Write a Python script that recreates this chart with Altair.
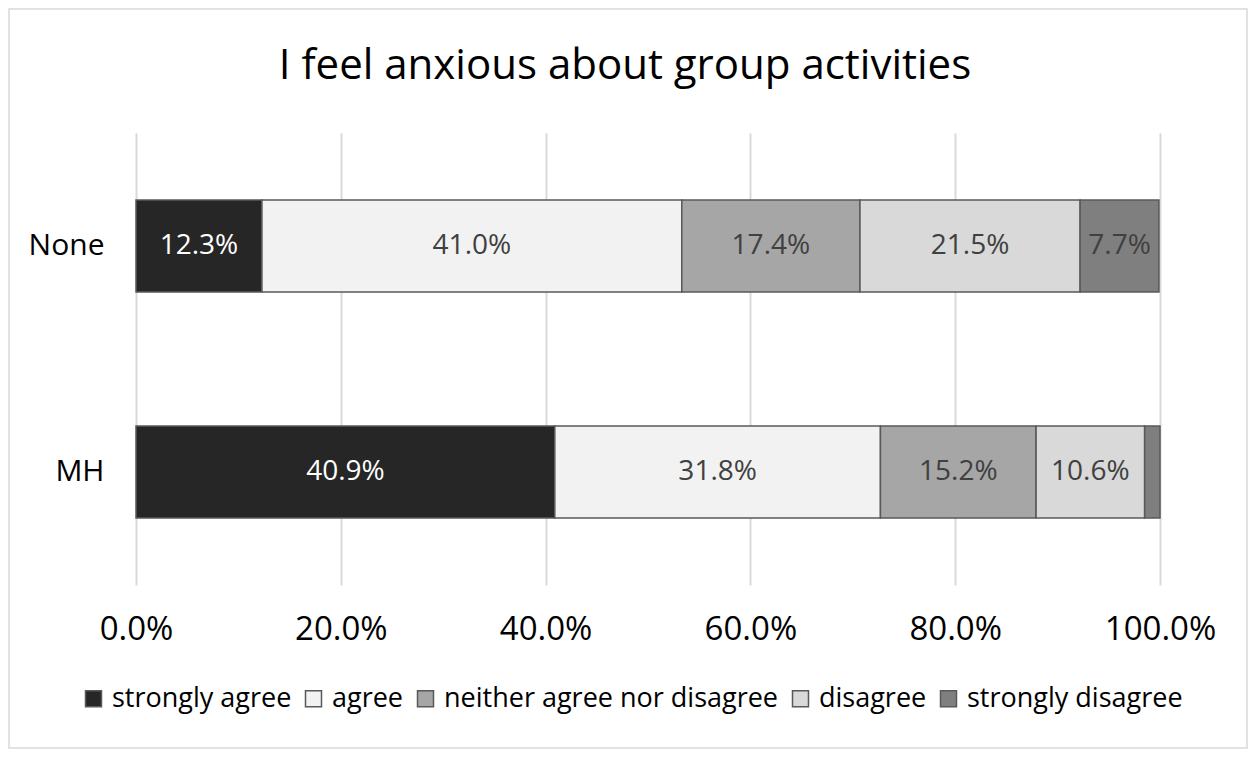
import altair as alt
import pandas as pd

groups = ["None", "MH"]
responses = ["strongly agree", "agree", "neither agree nor disagree", "disagree", "strongly disagree"]
none_vals = [12.3, 41.0, 17.4, 21.5, 7.7]
mh_vals = [40.9, 31.8, 15.2, 10.6, 1.5]
colors = ["#262626", "#f2f2f2", "#a6a6a6", "#d9d9d9", "#7f7f7f"]
text_colors = ["#ffffff", "#404040", "#404040", "#404040", "#404040"]

rows = []
for g, vals in zip(groups, [none_vals, mh_vals]):
    for i, (r, v) in enumerate(zip(responses, vals)):
        rows.append({"group": g, "response": r, "order": i, "value": v / 100.0,
                     "label": f"{v:.1f}%" if v >= 3 else "", "tcolor": text_colors[i]})
df = pd.DataFrame(rows)

FONT = "Open Sans"

base = alt.Chart(df).transform_stack(
    stack="value", groupby=["group"], sort=[alt.SortField("order")], as_=["x0", "x1"]
).transform_calculate(mid="(datum.x0 + datum.x1) / 2")

y_enc = alt.Y("group:N", sort=groups, title=None,
              scale=alt.Scale(paddingInner=0.593, paddingOuter=0.2965),
              axis=alt.Axis(domain=False, ticks=False, labelPadding=32, labelFontSize=30,
                            labelColor="#000000", labelFont=FONT))

bars = base.mark_bar(stroke="#595959", strokeWidth=1.5).encode(
    x=alt.X("x0:Q", title=None,
            scale=alt.Scale(domain=[0, 1], nice=False),
            axis=alt.Axis(values=[0, 0.2, 0.4, 0.6, 0.8, 1.0], format=".1%", domain=False, ticks=False,
                          grid=True, gridColor="#d9d9d9", gridWidth=2, labelPadding=28,
                          labelFlush=False, labelFontSize=33, labelColor="#000000", labelFont=FONT)),
    x2="x1:Q",
    y=y_enc,
    color=alt.Color("response:N", sort=responses,
                    scale=alt.Scale(domain=responses, range=colors),
                    legend=alt.Legend(title=None, orient="none", direction="horizontal",
                                      legendX=-56, legendY=552, symbolType="square", symbolSize=256,
                                      symbolStrokeColor="#595959", symbolStrokeWidth=1.5,
                                      labelFontSize=27, labelFont=FONT, labelColor="#000000",
                                      labelOffset=5, columnPadding=8, labelLimit=500)),
)

texts = base.mark_text(fontSize=28, font=FONT).encode(
    x="mid:Q",
    y=alt.Y("group:N", sort=groups),
    text="label:N",
    color=alt.Color("tcolor:N", scale=None),
)

frame = alt.Chart(pd.DataFrame({"a": [0]})).mark_rect(
    fill=None, stroke="#d9d9d9", strokeWidth=1.5
).encode(x=alt.value(-127), x2=alt.value(1111), y=alt.value(-124), y2=alt.value(615))

chart = alt.layer(frame, bars, texts).properties(
    width=1024, height=452,
    autosize=alt.AutoSizeParams(type="none"),
    padding={"left": 128, "top": 125, "right": 88, "bottom": 164},
    title=alt.TitleParams("I feel anxious about group activities", fontSize=42, font=FONT,
                          fontWeight="normal", color="#000000", offset=-80, dx=-23, anchor="middle"),
).configure_view(stroke=None)

chart.save("out.html", embed_options={"renderer": "svg", "actions": False})
